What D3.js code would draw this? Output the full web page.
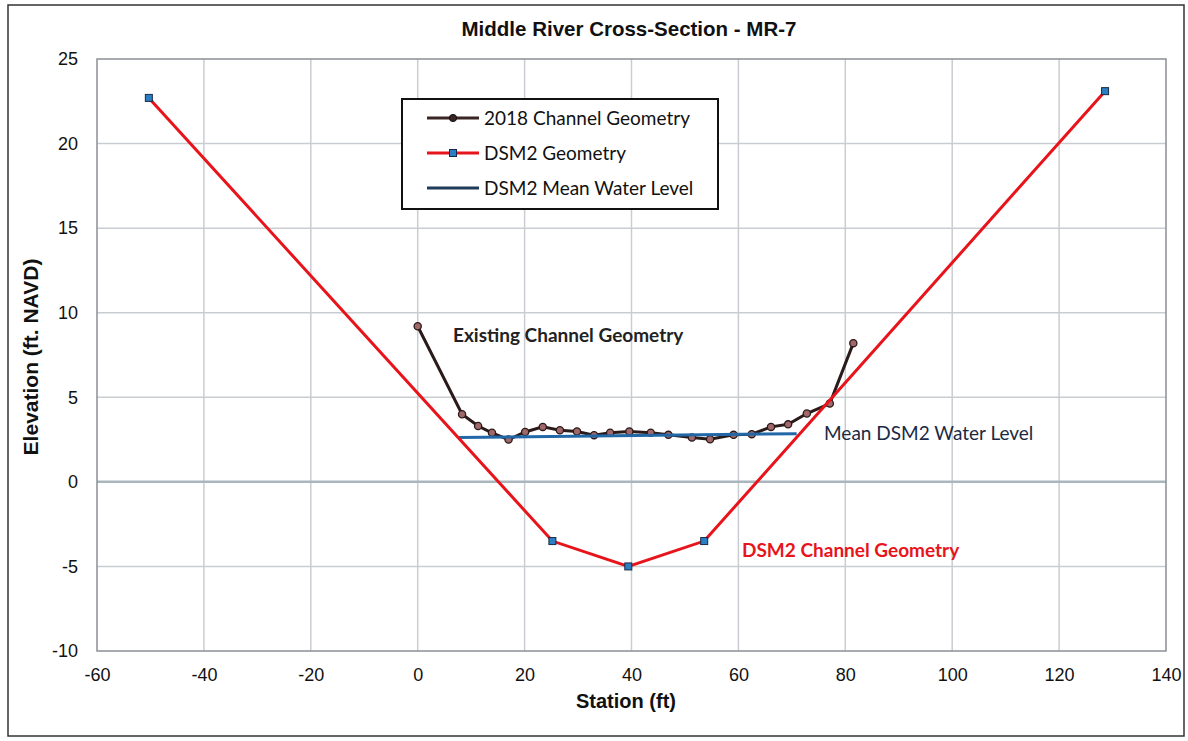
<!DOCTYPE html>
<html><head><meta charset="utf-8">
<script src="https://cdn.jsdelivr.net/npm/d3@7"></script>
<style>body{margin:0;background:#fff}svg{display:block}</style>
</head><body>
<svg id="c" width="1188" height="741"></svg>
<script>
const xTicks = [-60,-40,-20,0,20,40,60,80,100,120,140];
const yTicks = [-10,-5,0,5,10,15,20,25];
const existingStation = [0,8.3,11.3,13.9,17.0,20.1,23.4,26.6,29.8,33.0,36.0,39.6,43.6,46.9,51.3,54.7,59.1,62.5,66.1,69.3,72.8,77.1,81.5];
const existingElev    = [9.2,4.0,3.3,2.9,2.5,2.95,3.25,3.05,2.98,2.76,2.9,2.98,2.9,2.78,2.62,2.52,2.78,2.82,3.25,3.4,4.04,4.63,8.2];
const dsm2Station = [-50.3,25.2,39.4,53.6,128.6];
const dsm2Elev    = [22.7,-3.5,-5.0,-3.5,23.1];
const meanStation = [7.7,70.9];
const meanElev    = [2.62,2.85];
const seriesNames = ["2018 Channel Geometry","DSM2 Geometry","DSM2 Mean Water Level"];

const svg = d3.select("#c");
const L=97,R=1166,T=59,B=651;
const x = d3.scaleLinear().domain([-60,140]).range([L,R]);
const y = d3.scaleLinear().domain([-10,25]).range([B,T]);
const ARIAL = "Liberation Sans, Arial, sans-serif";
const CAL = "Lato, 'Open Sans', sans-serif";

// outer border
svg.append("rect").attr("x",8).attr("y",5).attr("width",1176).attr("height",731)
  .attr("fill","none").attr("stroke","#333").attr("stroke-width",1.5);

// grid
const g = svg.append("g");
g.selectAll(".vg").data(xTicks.slice(1,-1)).enter().append("line")
  .attr("x1",d=>x(d)).attr("x2",d=>x(d)).attr("y1",T).attr("y2",B)
  .attr("stroke","#c9cdd2").attr("stroke-width",1.5);
g.selectAll(".hg").data(yTicks.filter(d=>d!==-10&&d!==25&&d!==0)).enter().append("line")
  .attr("x1",L).attr("x2",R).attr("y1",d=>y(d)).attr("y2",d=>y(d))
  .attr("stroke","#c9cdd2").attr("stroke-width",1.5);
g.append("line").attr("x1",L).attr("x2",R).attr("y1",y(0)).attr("y2",y(0))
  .attr("stroke","#a9b6bd").attr("stroke-width",2.5);
// plot border
svg.append("rect").attr("x",L).attr("y",T).attr("width",R-L).attr("height",B-T)
  .attr("fill","none").attr("stroke","#8a8f94").attr("stroke-width",1.5);

// axes tick labels
const fmt = d => String(d);
const xAxis = d3.axisBottom(x).tickValues(xTicks).tickFormat(fmt).tickSize(0).tickPadding(0);
const xa = svg.append("g").attr("transform",`translate(0,${B+16})`).call(xAxis);
xa.select(".domain").remove();
xa.selectAll("text").attr("font-family",ARIAL).attr("font-size",18).attr("fill","#111").attr("dy","0.75em");
const yAxis = d3.axisLeft(y).tickValues(yTicks).tickFormat(fmt).tickSize(0).tickPadding(0);
const ya = svg.append("g").attr("transform",`translate(${L-19},0)`).call(yAxis);
ya.select(".domain").remove();
ya.selectAll("text").attr("font-family",ARIAL).attr("font-size",18).attr("fill","#111");

// titles
svg.append("text").attr("x",629).attr("y",36).attr("text-anchor","middle")
  .attr("font-family",ARIAL).attr("font-weight","bold").attr("font-size",20.5)
  .attr("fill","#111").text("Middle River Cross-Section - MR-7");
svg.append("text").attr("x",626).attr("y",708).attr("text-anchor","middle")
  .attr("font-family",ARIAL).attr("font-weight","bold").attr("font-size",20)
  .attr("fill","#111").text("Station (ft)");
svg.append("text").attr("transform","translate(38,357) rotate(-90)").attr("text-anchor","middle")
  .attr("font-family",ARIAL).attr("font-weight","bold").attr("font-size",21)
  .attr("fill","#111").text("Elevation (ft. NAVD)");

const line = d3.line().x(d=>x(d[0])).y(d=>y(d[1]));
const ex = existingStation.map((s,i)=>[s,existingElev[i]]);
const ds = dsm2Station.map((s,i)=>[s,dsm2Elev[i]]);
const mw = meanStation.map((s,i)=>[s,meanElev[i]]);

// 2018 channel
svg.append("path").attr("d",line(ex)).attr("fill","none").attr("stroke","#2b1a1a").attr("stroke-width",3);
svg.selectAll(".ep").data(ex).enter().append("circle")
  .attr("cx",d=>x(d[0])).attr("cy",d=>y(d[1])).attr("r",3.6)
  .attr("fill","#a06868").attr("stroke","#2b1a1a").attr("stroke-width",1.3);
// mean water level
svg.append("path").attr("d",line(mw)).attr("fill","none").attr("stroke","#2268a8").attr("stroke-width",3);
// DSM2
svg.append("path").attr("d",line(ds)).attr("fill","none").attr("stroke","#e8141c").attr("stroke-width",3);
svg.selectAll(".dp").data(ds).enter().append("rect")
  .attr("x",d=>x(d[0])-3.5).attr("y",d=>y(d[1])-3.5).attr("width",7).attr("height",7)
  .attr("fill","#2a7fc4").attr("stroke","#1a2a44").attr("stroke-width",1);

// annotations
svg.append("text").attr("x",453).attr("y",342).attr("font-family",CAL)
  .attr("font-weight","bold").attr("font-size",19).attr("fill","#222").text("Existing Channel Geometry");
svg.append("text").attr("x",824).attr("y",440).attr("font-family",CAL)
  .attr("font-size",19).attr("fill","#1b2a44").text("Mean DSM2 Water Level");
svg.append("text").attr("x",742).attr("y",557).attr("font-family",CAL)
  .attr("font-weight","bold").attr("font-size",19).attr("fill","#e8141c").text("DSM2 Channel Geometry");

// legend
const lg = svg.append("g");
lg.append("rect").attr("x",402).attr("y",99).attr("width",316).attr("height",110)
  .attr("fill","#fff").attr("stroke","#111").attr("stroke-width",2);
const rows = [118,153,188];
const lcol = ["#3a2424","#e8141c","#1f3b5a"];
seriesNames.forEach((n,i)=>{
  lg.append("line").attr("x1",427).attr("x2",479).attr("y1",rows[i]).attr("y2",rows[i])
    .attr("stroke",lcol[i]).attr("stroke-width",3);
  if(i===0) lg.append("circle").attr("cx",453).attr("cy",rows[i]).attr("r",3.6)
    .attr("fill","#3a2424").attr("stroke","#111");
  if(i===1) lg.append("rect").attr("x",449.5).attr("y",rows[i]-3.5).attr("width",7).attr("height",7)
    .attr("fill","#2a7fc4").attr("stroke","#1a2a44");
  lg.append("text").attr("x",484).attr("y",rows[i]).attr("dy","0.35em")
    .attr("font-family",CAL).attr("font-size",19).attr("fill","#111").text(n);
});
</script>
</body></html>
